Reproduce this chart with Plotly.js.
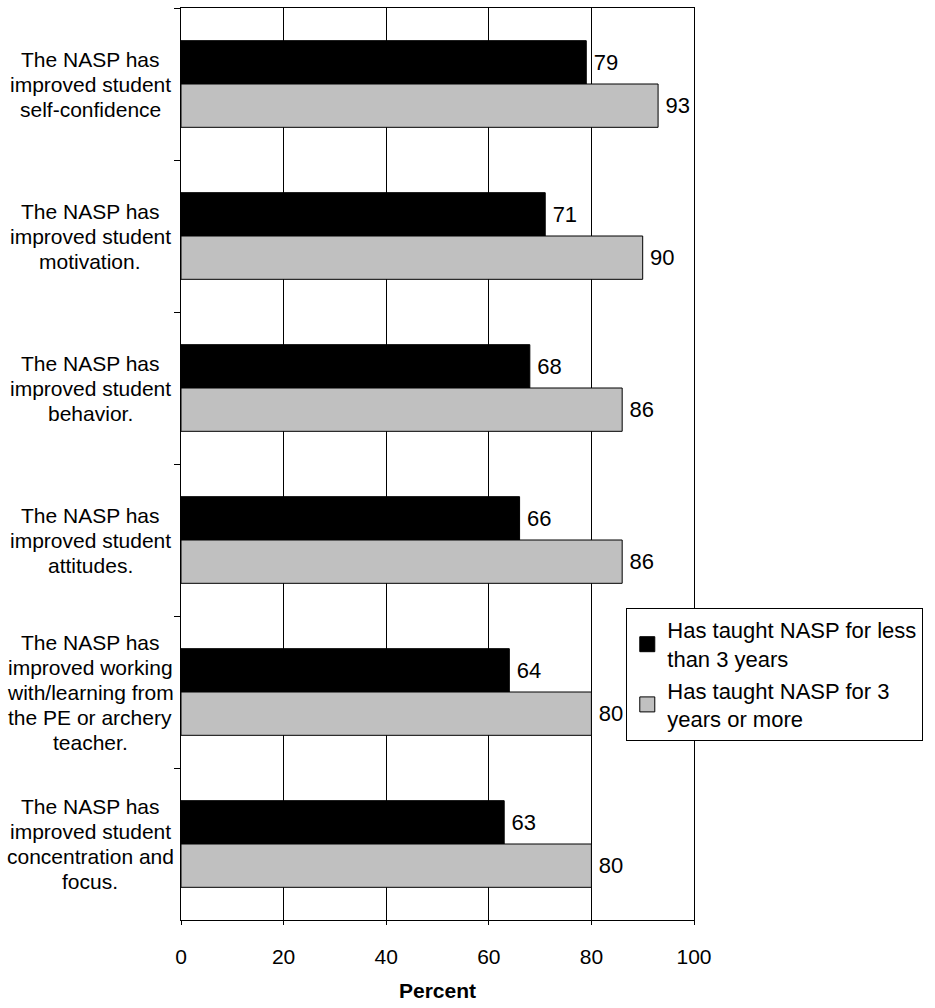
<!DOCTYPE html>
<html>
<head>
<meta charset="utf-8">
<script src="https://cdn.plot.ly/plotly-3.0.1.min.js"></script>
<style>html,body{margin:0;padding:0;background:#fff;}#chart{width:935px;height:1008px;}</style>
</head>
<body>
<div id="chart"></div>
<script>
var categories = [
  "The NASP has<br>improved student<br>self-confidence",
  "The NASP has<br>improved student<br>motivation.",
  "The NASP has<br>improved student<br>behavior.",
  "The NASP has<br>improved student<br>attitudes.",
  "The NASP has<br>improved working<br>with/learning from<br>the PE or archery<br>teacher.",
  "The NASP has<br>improved student<br>concentration and<br>focus."
];
var lessThan3 = [79, 71, 68, 66, 64, 63];
var threeOrMore = [93, 90, 86, 86, 80, 80];
var seriesNames = ["Has taught NASP for less<br>than 3 years", "Has taught NASP for 3<br>years or more"];
var seriesColors = ["#000000", "#c0c0c0"];
var xTicks = [0, 20, 40, 60, 80, 100];

var font = "Liberation Sans, Arial, sans-serif";
var fs = 21;

var traces = [];
[lessThan3, threeOrMore].forEach(function (vals, i) {
  traces.push({type: "bar", orientation: "h", name: seriesNames[i], y: categories, x: vals,
    texttemplate: "\u2009%{x}", textposition: "outside", cliponaxis: false, showlegend: false,
    textfont: {family: font, size: 22, color: "#000"},
    marker: {color: seriesColors[i], line: {color: "#000", width: 1}}});
});
// legend entries with larger square swatches
[0, 1].forEach(function (i) {
  traces.push({type: "scatter", mode: "markers", name: seriesNames[i], x: [null], y: [null],
    marker: {symbol: "square", size: 15, color: seriesColors[i], line: {color: "#000", width: 1}},
    showlegend: true, hoverinfo: "skip"});
});

var lineGap = 25;
var annotations = [];
categories.forEach(function (c) {
  var lines = c.split("<br>");
  var n = lines.length;
  lines.forEach(function (ln, i) {
    annotations.push({text: ln, xref: "paper", yref: "y", x: -0.177, y: c, xanchor: "center", yanchor: "middle",
      yshift: ((n - 1) / 2 - i) * lineGap, showarrow: false,
      font: {family: font, size: fs, color: "#000"}});
  });
});

var layout = {
  width: 935, height: 1008,
  margin: {l: 181, r: 241, t: 8, b: 88},
  paper_bgcolor: "#fff", plot_bgcolor: "#fff",
  font: {family: font, size: fs, color: "#000"},
  barmode: "group", bargap: 0.43, bargroupgap: 0,
  showlegend: true,
  legend: {x: 0.868, y: 0.342, xanchor: "left", yanchor: "top", bgcolor: "#fff",
           bordercolor: "#000", borderwidth: 1, font: {family: font, size: 22, color: "#000"},
           tracegroupgap: 2, itemwidth: 30},
  xaxis: {range: [0, 100], tickvals: xTicks, ticktext: xTicks.map(String),
          showgrid: true, gridcolor: "#000", gridwidth: 1, zeroline: false,
          showline: true, linecolor: "#000", linewidth: 1, mirror: true,
          ticks: "outside", ticklen: 4, tickcolor: "#000", ticklabelstandoff: 14,
          tickfont: {family: font, size: fs, color: "#000"},
          title: {text: "<b>Percent</b>", font: {family: font, size: fs, color: "#000"}, standoff: 16},
          fixedrange: true},
  yaxis: {type: "category", autorange: "reversed", showticklabels: false,
          tickson: "boundaries", ticks: "outside", ticklen: 6, tickcolor: "#000",
          showgrid: false, zeroline: false,
          showline: true, linecolor: "#000", linewidth: 1, mirror: true, fixedrange: true},
  annotations: annotations
};

Plotly.newPlot("chart", traces, layout, {displayModeBar: false, staticPlot: true});
</script>
</body>
</html>
